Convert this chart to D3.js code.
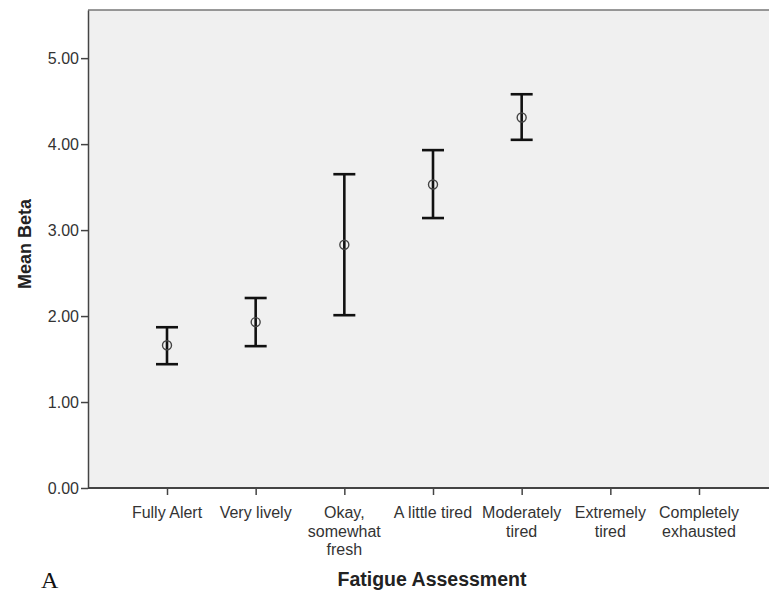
<!DOCTYPE html>
<html>
<head>
<meta charset="utf-8">
<script src="https://cdn.jsdelivr.net/npm/d3@7"></script>
<style>
  body { margin: 0; background: #fff; }
  svg { display: block; }
</style>
</head>
<body>
<script>
const categories = [
  "Fully Alert",
  "Very lively",
  "Okay, somewhat fresh",
  "A little tired",
  "Moderately tired",
  "Extremely tired",
  "Completely exhausted",
];
// label lines as printed under each tick
const categoryLines = [
  ["Fully Alert"],
  ["Very lively"],
  ["Okay,", "somewhat", "fresh"],
  ["A little tired"],
  ["Moderately", "tired"],
  ["Extremely", "tired"],
  ["Completely", "exhausted"],
];
const means = [1.66, 1.93, 2.83, 3.53, 4.31, null, null];
const lower = [1.44, 1.65, 2.01, 3.14, 4.05, null, null];
const upper = [1.87, 2.21, 3.65, 3.93, 4.58, null, null];
const yTicks = [0, 1, 2, 3, 4, 5];

const width = 769;
const height = 595;
const plotLeft = 88;
const plotTop = 10;
const plotBottom = 488;
const font = "Arial, 'Liberation Sans', sans-serif";

const svg = d3
  .select("body")
  .append("svg")
  .attr("width", width)
  .attr("height", height);

const x = d3.scalePoint().domain(categories).range([167, 699]);
const y = d3.scaleLinear().domain([0, 5.56]).range([plotBottom, plotTop]);

svg
  .append("rect")
  .attr("x", plotLeft)
  .attr("y", plotTop)
  .attr("width", width - plotLeft)
  .attr("height", plotBottom - plotTop)
  .attr("fill", "#f0f0f0");

svg
  .append("line")
  .attr("x1", plotLeft)
  .attr("x2", width)
  .attr("y1", plotTop)
  .attr("y2", plotTop)
  .attr("stroke", "#777")
  .attr("stroke-width", 1.5);

// y axis
const yAxis = svg
  .append("g")
  .attr("transform", `translate(${plotLeft},0)`)
  .call(
    d3
      .axisLeft(y)
      .tickValues(yTicks)
      .tickFormat(d3.format(".2f"))
      .tickSize(7)
      .tickSizeOuter(0)
  );
yAxis.select(".domain").attr("stroke", "#444").attr("stroke-width", 1.5);
yAxis.selectAll(".tick line").attr("stroke", "#444").attr("stroke-width", 1.5);
yAxis
  .selectAll(".tick text")
  .attr("font-family", font)
  .attr("font-size", 16)
  .attr("fill", "#333")
  .attr("x", -9);

// x axis
const xAxis = svg
  .append("g")
  .attr("transform", `translate(0,${plotBottom})`)
  .call(d3.axisBottom(x).tickSize(7).tickSizeOuter(0).tickFormat(""));
xAxis.select(".domain").remove();
xAxis
  .append("line")
  .attr("x1", plotLeft)
  .attr("x2", width)
  .attr("stroke", "#444")
  .attr("stroke-width", 2);
xAxis.selectAll(".tick line").attr("stroke", "#444").attr("stroke-width", 1.5);

const labels = svg
  .append("g")
  .selectAll("text")
  .data(categories)
  .join("text")
  .attr("font-family", font)
  .attr("font-size", 16)
  .attr("fill", "#333")
  .attr("text-anchor", "middle");
labels
  .selectAll("tspan")
  .data((d, i) => categoryLines[i].map((t) => ({ t, c: d })))
  .join("tspan")
  .attr("x", (d) => x(d.c))
  .attr("y", (_, j) => 518 + j * 18.5)
  .text((d) => d.t);

// error bars
const points = categories
  .map((c, i) => ({ c, m: means[i], lo: lower[i], hi: upper[i] }))
  .filter((d) => d.m !== null);

const bars = svg.append("g").attr("stroke", "#111").attr("stroke-width", 2.6);
bars
  .selectAll(".stem")
  .data(points)
  .join("line")
  .attr("class", "stem")
  .attr("x1", (d) => x(d.c))
  .attr("x2", (d) => x(d.c))
  .attr("y1", (d) => y(d.lo))
  .attr("y2", (d) => y(d.hi));
bars
  .selectAll(".capHi")
  .data(points)
  .join("line")
  .attr("class", "capHi")
  .attr("x1", (d) => x(d.c) - 11)
  .attr("x2", (d) => x(d.c) + 11)
  .attr("y1", (d) => y(d.hi))
  .attr("y2", (d) => y(d.hi));
bars
  .selectAll(".capLo")
  .data(points)
  .join("line")
  .attr("class", "capLo")
  .attr("x1", (d) => x(d.c) - 11)
  .attr("x2", (d) => x(d.c) + 11)
  .attr("y1", (d) => y(d.lo))
  .attr("y2", (d) => y(d.lo));

svg
  .append("g")
  .selectAll("circle")
  .data(points)
  .join("circle")
  .attr("cx", (d) => x(d.c))
  .attr("cy", (d) => y(d.m))
  .attr("r", 4.5)
  .attr("fill", "none")
  .attr("stroke", "#444")
  .attr("stroke-width", 1.4);

// titles
svg
  .append("text")
  .attr("transform", `translate(31,244) rotate(-90)`)
  .attr("text-anchor", "middle")
  .attr("font-family", font)
  .attr("font-size", 18)
  .attr("font-weight", "bold")
  .attr("fill", "#222")
  .text("Mean Beta");

svg
  .append("text")
  .attr("x", 432)
  .attr("y", 586)
  .attr("text-anchor", "middle")
  .attr("font-family", font)
  .attr("font-size", 19.5)
  .attr("font-weight", "bold")
  .attr("fill", "#222")
  .text("Fatigue Assessment");

svg
  .append("text")
  .attr("x", 41)
  .attr("y", 588)
  .attr("font-family", "'Liberation Serif', 'DejaVu Serif', serif")
  .attr("font-size", 24)
  .attr("fill", "#111")
  .text("A");
</script>
</body>
</html>
